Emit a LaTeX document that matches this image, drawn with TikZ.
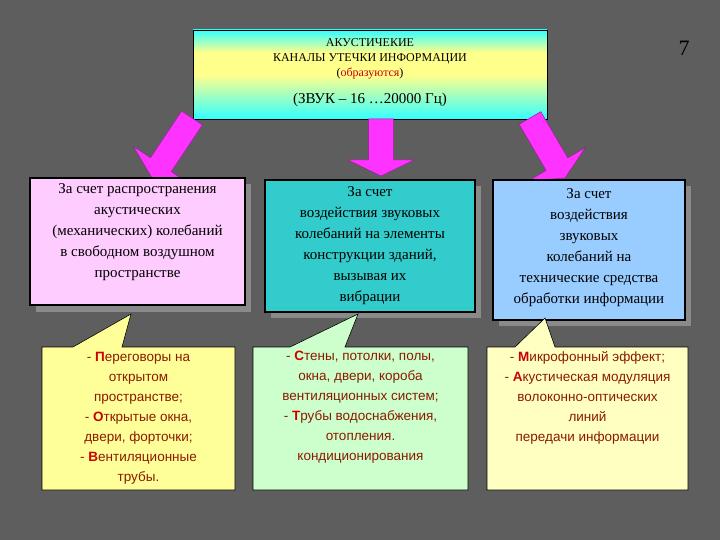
\documentclass[tikz,border=0pt]{standalone}
\usepackage{fontspec}
\setmainfont{Liberation Serif}
\setsansfont{Liberation Sans}
\usetikzlibrary{calc}
\definecolor{bg}{HTML}{5E5E5E}
\definecolor{shd}{HTML}{8A8A8A}
\definecolor{mag}{HTML}{FF33FF}
\definecolor{pinkb}{HTML}{FFCCFF}
\definecolor{tealb}{HTML}{33CCCC}
\definecolor{blueb}{HTML}{99CCFF}
\definecolor{yelb}{HTML}{FFFF99}
\definecolor{grnb}{HTML}{CCFFCC}
\definecolor{txr}{HTML}{8B1A00}
\definecolor{txb}{HTML}{CC0000}
\tikzset{
 midbox/.style={draw=black,line width=2.5pt},
 midtxt/.style={font=\fontsize{15}{21}\selectfont,align=center,text=black},
 callbox/.style={draw=black,line width=0.6pt},
 calltxt/.style={font=\sffamily\fontsize{13.5}{20}\selectfont,align=center,text=txr},
 shadow/.style={fill=shd,draw=none},
 barr/.style={fill=mag,draw=mag!60!black,line width=0.5pt}
}
\newcommand{\barrow}[2]{%
 \coordinate (h) at ($(#2)!16pt!(#1)$);
 \draw[barr] ($(#1)!12.5pt!90:(#2)$) -- ($(h)!12.5pt!90:(#2)$) -- ($(h)!33pt!90:(#2)$) -- (#2)
   -- ($(h)!33pt!-90:(#2)$) -- ($(h)!12.5pt!-90:(#2)$) -- ($(#1)!12.5pt!-90:(#2)$) -- cycle;}
\newcommand{\R}[1]{\textcolor{txb}{\textbf{#1}}}
\begin{document}
\begin{tikzpicture}[x=1pt,y=-1pt]
\fill[bg] (0,0) rectangle (720,540);
\useasboundingbox (0,0) rectangle (720,540);
% top box
\shade[top color=cyan!80!white,bottom color=yellow!45!white,middle color=yellow!45!white] (193,30) rectangle (547,75);
\shade[top color=yellow!45!white,bottom color=cyan!80!white] (193,75) rectangle (547,119);
\draw[black,line width=0.6pt] (193,30) rectangle (547,119);
\node[font=\fontsize{12}{15}\selectfont,align=center] (top) at (370,59) {АКУСТИЧЕКИЕ\\КАНАЛЫ УТЕЧКИ ИНФОРМАЦИИ\\(\textcolor{txb}{образуются})};
\node[font=\fontsize{15}{17}\selectfont] (top2) at (370,100) {(ЗВУК – 16 …20000 Гц)};
\node[font=\fontsize{22}{24}\selectfont] (num) at (684,48) {7};
% arrows
\coordinate (la) at (192,118); \coordinate (lb) at (152,178);
\coordinate (ca) at (381,119); \coordinate (cb) at (381,176);
\coordinate (ra) at (530,118); \coordinate (rb) at (565,178);
\barrow{la}{lb}
\barrow{ca}{cb}
\barrow{ra}{rb}
% mid boxes with shadows
\fill[shadow] (36,184) rectangle (251,312);
\fill[pinkb] (30,178) rectangle (245,305); \draw[midbox] (30,178) rectangle (245,305);
\node[midtxt] (m1) at (137.5,232) {За счет распространения\\акустических\\(механических) колебаний\\в свободном воздушном\\пространстве};
\fill[shadow] (271,186) rectangle (481,318);
\fill[tealb] (265,180) rectangle (475,312); \draw[midbox] (265,180) rectangle (475,312);
\node[midtxt] (m2) at (370,246) {За счет\\воздействия звуковых\\колебаний на элементы\\конструкции зданий,\\вызывая их\\вибрации};
\fill[shadow] (499,186) rectangle (691,326);
\fill[blueb] (493,180) rectangle (685,320); \draw[midbox] (493,180) rectangle (685,320);
\node[midtxt] (m3) at (589,248) {За счет\\воздействия\\звуковых\\колебаний на\\технические средства\\обработки информации};
% callouts
\draw[callbox,fill=yelb] (42,347) -- (73,347) -- (131,314) -- (122,347) -- (235,347) -- (235,490) -- (42,490) -- cycle;
\node[calltxt] (c1) at (138.5,418) {- \R{П}ереговоры на\\открытом\\пространстве;\\- \R{О}ткрытые окна,\\двери, форточки;\\- \R{В}ентиляционные\\трубы.};
\draw[callbox,fill=grnb] (253,347) -- (290,347) -- (358,314) -- (345,347) -- (468,347) -- (468,490) -- (253,490) -- cycle;
\node[calltxt] (c2) at (360.5,407) {- \R{С}тены, потолки, полы,\\окна, двери, короба\\вентиляционных систем;\\- \R{Т}рубы водоснабжения,\\отопления.\\кондиционирования};
\draw[callbox,fill=yelb!60!white] (487,347) -- (515,347) -- (545,318) -- (555,347) -- (688,347) -- (688,490) -- (487,490) -- cycle;
\node[calltxt] (c3) at (587.5,398) {- \R{М}икрофонный эффект;\\- \R{А}кустическая модуляция\\волоконно-оптических\\линий\\передачи информации};
\end{tikzpicture}
\end{document}
